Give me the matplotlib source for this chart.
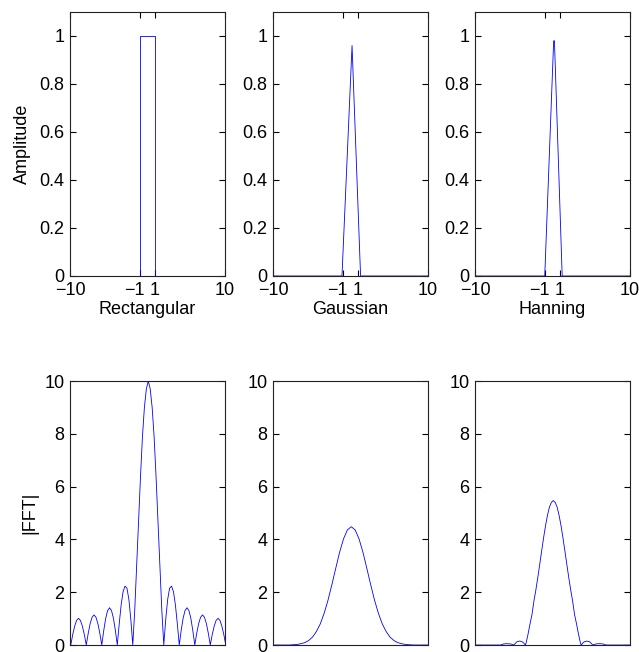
import matplotlib
matplotlib.use('Agg')
import matplotlib.pyplot as plt
import matplotlib.transforms as mtransforms
import numpy as np

plt.rcParams['font.family'] = ['Liberation Sans', 'DejaVu Sans']
plt.rcParams['font.size'] = 13
plt.rcParams['axes.unicode_minus'] = True

# time-domain windows
rect_x = [-10, -1, -1, 1, 1, 10]
rect_y = [0, 0, 1, 1, 0, 0]
gauss_x = [-10, -1.1, 0.2, 1.3, 10]
gauss_y = [0, 0, 0.96, 0, 0]
hann_x = [-10, -1.0, 0.15, 0.25, 1.25, 10]
hann_y = [0, 0, 0.98, 0.98, 0, 0]

window_names = ['Rectangular', 'Gaussian', 'Hanning']
window_ticks = [-10, -1, 1, 10]

# |FFT| of the rectangular window, bins -5 .. 5 in steps of 1/8
rect_fft_x = np.linspace(-5, 5, 81)
rect_fft_y = [0, 0.39, 0.71, 0.93, 1.01, 0.93, 0.71, 0.39, 0,
              0.44, 0.81, 1.05, 1.14, 1.05, 0.81, 0.44, 0,
              0.54, 1.00, 1.30, 1.41, 1.31, 1.02, 0.56, 0,
              0.80, 1.52, 2.02, 2.23, 2.15, 1.72, 0.96, 0,
              1.3, 3.0, 4.7, 6.4, 7.9, 9.0, 9.7, 10.0, 9.7, 9.0, 7.9, 6.4, 4.7, 3.0, 1.3, 0,
              0.96, 1.72, 2.15, 2.23, 2.02, 1.52, 0.80, 0,
              0.56, 1.02, 1.31, 1.41, 1.30, 1.00, 0.54, 0,
              0.44, 0.81, 1.05, 1.14, 1.05, 0.81, 0.44, 0,
              0.39, 0.71, 0.93, 1.01, 0.93, 0.71, 0.39, 0]

# |FFT| of the gaussian window, steps of 1/4
gauss_fft_x = np.linspace(-5, 5, 41)
gauss_fft_y = [0, 0, 0, 0, 0,
               0.01, 0.02, 0.05, 0.09, 0.17, 0.30, 0.51, 0.80, 1.20, 1.70, 2.29, 2.91, 3.52, 4.02, 4.36,
               4.48,
               4.36, 4.02, 3.52, 2.91, 2.29, 1.70, 1.20, 0.80, 0.51, 0.30, 0.17, 0.09, 0.05, 0.02, 0.01,
               0, 0, 0, 0, 0]

# |FFT| of the hanning window
hann_fft_x = [-5, -3.4, -3.2, -3.0, -2.75, -2.55, -2.45, -2.35, -2.17, -2.0, -1.9, -1.8,
              -1.75, -1.625, -1.5, -1.375, -1.25, -1.125, -1.0, -0.875, -0.75, -0.625,
              -0.5, -0.375, -0.25, -0.125, 0,
              0.125, 0.25, 0.375, 0.5, 0.625, 0.75, 0.875, 1.0, 1.125, 1.25, 1.375,
              1.5, 1.625, 1.75, 1.8, 1.9, 2.0, 2.17, 2.35, 2.45, 2.55, 2.75, 3.0, 3.2, 3.4, 5]
hann_fft_y = [0, 0, 0.04, 0.05, 0.04, 0, 0.06, 0.12, 0.15, 0.12, 0.07, 0,
              0.08, 0.42, 0.80, 1.15, 1.66, 2.08, 2.55, 3.05, 3.56, 4.06,
              4.52, 4.91, 5.22, 5.40, 5.47,
              5.40, 5.22, 4.91, 4.52, 4.06, 3.56, 3.05, 2.55, 2.08, 1.66, 1.15,
              0.80, 0.42, 0.08, 0, 0.07, 0.12, 0.15, 0.12, 0.06, 0, 0.04, 0.05, 0.04, 0, 0]

W, H = 639, 652
fig = plt.figure(figsize=(W / 100, H / 100), dpi=100)

lefts = [70, 273, 475]
ax_w = 155
top_row = (12, 276)
bottom_row = (381, 645)
line_kw = dict(color='b', lw=0.6)


def make_axes(left, row):
    top, bottom = row
    return fig.add_axes([left / W, 1 - bottom / H, ax_w / W, (bottom - top) / H])


def style(ax):
    ax.tick_params(direction='in', top=True, right=True, length=4, width=0.8,
                   labelsize=13, pad=4)
    for sp in ax.spines.values():
        sp.set_linewidth(0.8)
        sp.set_color('#222222')


windows = [(rect_x, rect_y), (gauss_x, gauss_y), (hann_x, hann_y)]
for i, (wx, wy) in enumerate(windows):
    ax = make_axes(lefts[i], top_row)
    ax.plot(wx, wy, **line_kw)
    ax.set_xlim(-10, 10)
    ax.set_ylim(0, 1.1)
    ax.set_xticks(window_ticks)
    ax.set_xticklabels(['\u221210', '\u22121', '1', '10'])
    ax.set_yticks([0, 0.2, 0.4, 0.6, 0.8, 1])
    ax.set_yticklabels(['0', '0.2', '0.4', '0.6', '0.8', '1'])
    ax.set_xlabel(window_names[i], labelpad=2)
    style(ax)
    # nudge the -1 / 1 labels apart so they don't run together
    labels = ax.get_xticklabels()
    for lab, dx in zip(labels[1:3], (-5, -1)):
        lab.set_transform(lab.get_transform() +
                          mtransforms.ScaledTranslation(dx / 100, 0, fig.dpi_scale_trans))
    if i == 0:
        ax.set_ylabel('Amplitude', labelpad=6)

spectra = [(rect_fft_x, rect_fft_y), (gauss_fft_x, gauss_fft_y), (hann_fft_x, hann_fft_y)]
for i, (fx, fy) in enumerate(spectra):
    ax = make_axes(lefts[i], bottom_row)
    ax.plot(fx, fy, **line_kw)
    ax.set_xlim(-5.05, 4.95)
    ax.set_ylim(0, 10)
    ax.set_xticks([])
    ax.set_yticks([0, 2, 4, 6, 8, 10])
    style(ax)
    if i == 0:
        ax.set_ylabel('|FFT|', labelpad=4)

fig.savefig('out.png', dpi=100)
